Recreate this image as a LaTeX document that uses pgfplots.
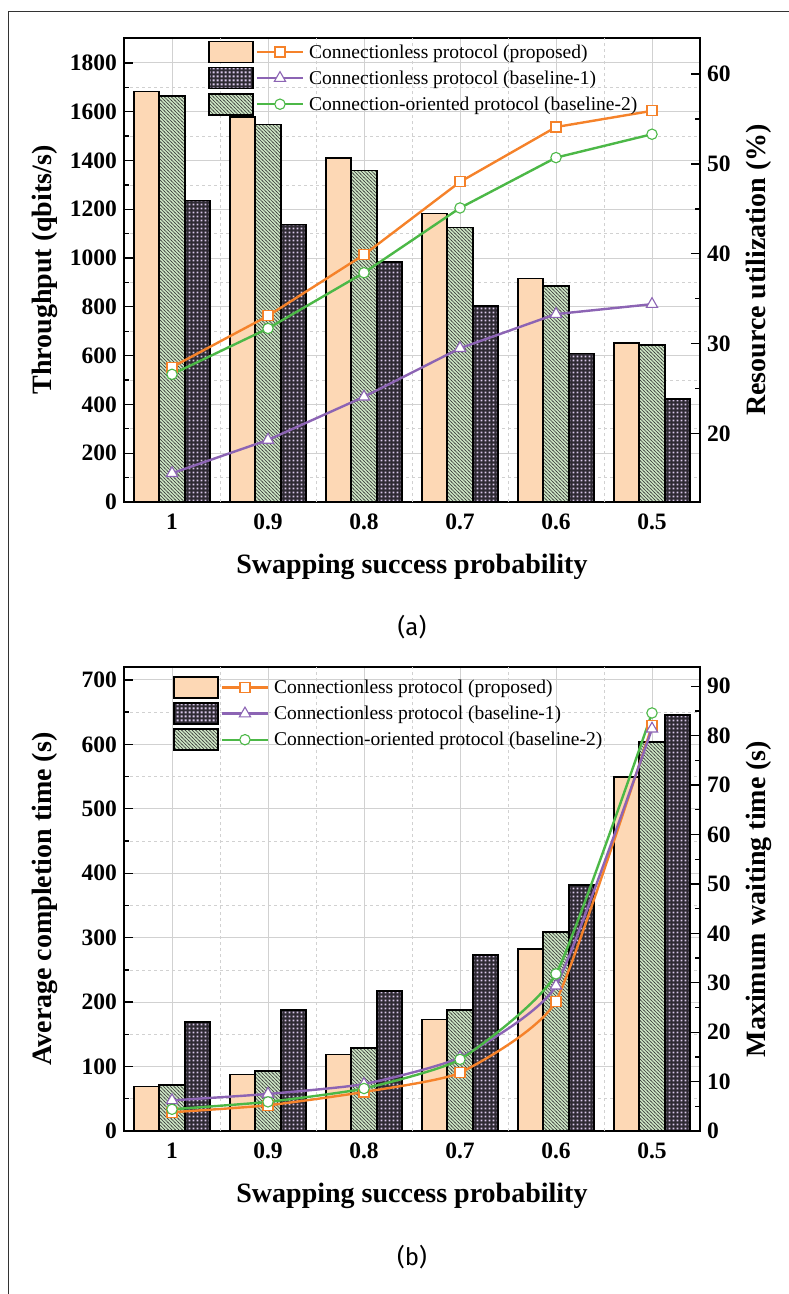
\documentclass[border=0pt]{standalone}
\usepackage{pgfplots}
\pgfplotsset{compat=1.18}
\usepackage{fontspec}
\setmainfont{Liberation Serif}
\newfontfamily\capfont{Fira Sans}
\usetikzlibrary{patterns}

\definecolor{peach}{HTML}{FDD8B5}
\definecolor{lgreen}{HTML}{CBE4C3}
\definecolor{hatch}{HTML}{3A3A3A}
\definecolor{lav}{HTML}{D9C8EA}
\definecolor{darkf}{HTML}{2E2A33}
\definecolor{cor}{HTML}{F5822A}
\definecolor{cpu}{HTML}{8C64B4}
\definecolor{cgr}{HTML}{4CB847}

\pgfdeclarepatternformonly{lavdots}{\pgfqpoint{0pt}{0pt}}{\pgfqpoint{4pt}{4pt}}{\pgfqpoint{4pt}{4pt}}{%
  \pgfpathrectangle{\pgfqpoint{0.9pt}{0.9pt}}{\pgfqpoint{2.2pt}{2.2pt}}%
  \pgfusepath{fill}%
}
\pgfdeclarepatternformonly{nwl}{\pgfqpoint{-1pt}{-1pt}}{\pgfqpoint{4.5pt}{4.5pt}}{\pgfqpoint{3.5pt}{3.5pt}}{%
  \pgfsetlinewidth{0.6pt}%
  \pgfpathmoveto{\pgfqpoint{-0.5pt}{4pt}}%
  \pgfpathlineto{\pgfqpoint{4pt}{-0.5pt}}%
  \pgfusepath{stroke}%
}

\tikzset{
  peachbar/.style={fill=peach, draw=black, line width=1.6pt},
  greenbar/.style={fill=lgreen, draw=black, line width=1.6pt, postaction={pattern=nwl, pattern color=hatch}},
  darkbar/.style={fill=darkf, draw=black, line width=1.6pt, postaction={pattern=lavdots, pattern color=lav}},
}

\pgfplotsset{
  base/.style={
    scale only axis, width=576pt, height=464pt,
    xmin=-0.5, xmax=5.5,
    major tick length=9pt, minor tick length=5pt,
    major tick style={black, line width=1.3pt},
    minor tick style={black, line width=1.3pt},
    axis line style={black, line width=1.6pt},
    tick label style={font=\bfseries\fontsize{23.5}{25}\selectfont},
    label style={font=\bfseries\fontsize{28}{30}\selectfont},
    /pgf/number format/assume math mode=true,
    /pgf/number format/1000 sep={},
  },
  barax/.style={
    base, ybar=0pt, bar width=25.5pt,
    xtick={0,...,5}, xticklabels={1,0.9,0.8,0.7,0.6,0.5},
    xtick pos=bottom, ytick pos=left, tick align=inside,
    minor y tick num=1,
    grid=both,
    major grid style={solid, black!18, line width=0.9pt},
    minor grid style={dashed, black!18, line width=0.7pt},
    extra x ticks={0.5,1.5,2.5,3.5,4.5}, extra x tick labels={},
    extra x tick style={major tick length=0pt, major grid style={dashed, black!18, line width=0.7pt}},
    xticklabel style={yshift=-8pt},
    yticklabel style={xshift=-3.5pt},
    xlabel style={at={(axis description cs:0.5,0)}, anchor=base, yshift=-71pt},
    ylabel style={at={(axis description cs:-0.137,0.5)}, anchor=center},
  },
  lineax/.style={
    base, axis y line*=right, axis x line=none, tick align=inside,
    minor y tick num=1,
    yticklabel style={xshift=3.5pt},
    ylabel style={at={(axis description cs:1.1024,0.5)}, anchor=center},
    legend cell align=left,
    legend style={draw=none, fill=none, inner sep=0pt, row sep=3.5pt,
      font=\fontsize{19.5}{21}\selectfont, nodes={inner sep=1pt},
      /tikz/every odd column/.style={column sep=4pt}},
  },
  legA/.style={legend image code/.code={
    \draw[peachbar] (0pt,-10.5pt) rectangle (44pt,10.5pt);
    \draw[cor, line width=2.4pt] (48pt,0pt) -- (94pt,0pt);
    \draw[cor, fill=white, line width=1.1pt] (66pt,-5pt) rectangle (76pt,5pt);
  }},
  legB/.style={legend image code/.code={
    \draw[darkbar] (0pt,-10.5pt) rectangle (44pt,10.5pt);
    \draw[cpu, line width=2.4pt] (48pt,0pt) -- (94pt,0pt);
    \draw[cpu, fill=white, line width=1.1pt] (71pt,6.5pt) -- (65.4pt,-3.2pt) -- (76.6pt,-3.2pt) -- cycle;
  }},
  legC/.style={legend image code/.code={
    \draw[greenbar] (0pt,-10.5pt) rectangle (44pt,10.5pt);
    \draw[cgr, line width=2.4pt] (48pt,0pt) -- (94pt,0pt);
    \draw[cgr, fill=white, line width=1.1pt] (71pt,0pt) circle (5.2pt);
  }},
  lnA/.style={cor, line width=2.4pt, mark=square*, mark size=5pt, mark options={fill=white, line width=1.1pt, solid}},
  lnB/.style={cpu, line width=2.4pt, mark=triangle*, mark size=6.5pt, mark options={fill=white, line width=1.1pt, solid}},
  lnC/.style={cgr, line width=2.4pt, mark=*, mark size=5.2pt, mark options={fill=white, line width=1.1pt, solid}},
}

\begin{document}
\begin{tikzpicture}
\path (0pt,0pt) rectangle (789pt,-1294pt);
\draw[line width=1pt, black!80] (8pt,-1294pt) -- (8pt,-11pt) -- (789pt,-11pt);

% ---------------- (a) ----------------
\begin{axis}[barax, at={(124pt,-502pt)}, anchor=south west,
  ymin=0, ymax=1902, ytick={0,200,...,1800},
  xlabel={Swapping success probability},
  ylabel={Throughput (qbits/s)}]
\addplot[peachbar] coordinates {(0,1682) (1,1577) (2,1409) (3,1182) (4,916) (5,653)};
\addplot[greenbar] coordinates {(0,1664) (1,1547) (2,1359) (3,1126) (4,885) (5,643)};
\addplot[darkbar] coordinates {(0,1236) (1,1137) (2,983) (3,804) (4,609) (5,423)};
\end{axis}
\begin{axis}[lineax, at={(124pt,-502pt)}, anchor=south west,
  ymin=12.4, ymax=64, ytick={20,30,...,60},
  ylabel={Resource utilization (\%)},
  legend style={at={(axis description cs:0.1458,0.9946)}, anchor=north west}]
\addplot[lnA, legA] coordinates {(0,27.4) (1,33.1) (2,39.9) (3,48.0) (4,54.1) (5,55.9)};
\addlegendentry{Connectionless protocol (proposed)}
\addplot[lnB, legB] coordinates {(0,15.6) (1,19.3) (2,24.1) (3,29.5) (4,33.3) (5,34.4)};
\addlegendentry{Connectionless protocol (baseline-1)}
\addplot[lnC, legC] coordinates {(0,26.6) (1,31.7) (2,37.9) (3,45.1) (4,50.7) (5,53.3)};
\addlegendentry{Connection-oriented protocol (baseline-2)}
\end{axis}
\node[font=\capfont\fontsize{24}{26}\selectfont] at (412pt,-627pt) {(a)};

% ---------------- (b) ----------------
\begin{axis}[barax, at={(124pt,-1131pt)}, anchor=south west,
  ymin=0, ymax=720, ytick={0,100,...,700},
  xlabel={Swapping success probability},
  ylabel={Average completion time (s)}]
\addplot[peachbar] coordinates {(0,69) (1,88) (2,119) (3,173) (4,282) (5,549)};
\addplot[greenbar] coordinates {(0,71) (1,93) (2,129) (3,188) (4,309) (5,604)};
\addplot[darkbar] coordinates {(0,169) (1,188) (2,217) (3,273) (4,382) (5,646)};
\end{axis}
\begin{axis}[lineax, at={(124pt,-1131pt)}, anchor=south west,
  ymin=0, ymax=93.9, ytick={0,10,...,90},
  ylabel={Maximum waiting time (s)},
  legend style={at={(axis description cs:0.085,0.9806)}, anchor=north west}]
\addplot[lnA, legA, smooth, tension=0.3] coordinates {(0,3.8) (1,5.2) (2,7.9) (3,11.8) (4,26.3) (5,82.0)};
\addlegendentry{Connectionless protocol (proposed)}
\addplot[lnB, legB, smooth, tension=0.3] coordinates {(0,6.2) (1,7.5) (2,9.5) (3,14.9) (4,29.4) (5,81.4)};
\addlegendentry{Connectionless protocol (baseline-1)}
\addplot[lnC, legC, smooth, tension=0.3] coordinates {(0,4.4) (1,5.9) (2,8.6) (3,14.5) (4,31.8) (5,84.6)};
\addlegendentry{Connection-oriented protocol (baseline-2)}
\end{axis}
\node[font=\capfont\fontsize{24}{26}\selectfont] at (412pt,-1257pt) {(b)};

\pgfresetboundingbox
\path (0pt,0pt) rectangle (789pt,-1294pt);
\end{tikzpicture}
\end{document}
